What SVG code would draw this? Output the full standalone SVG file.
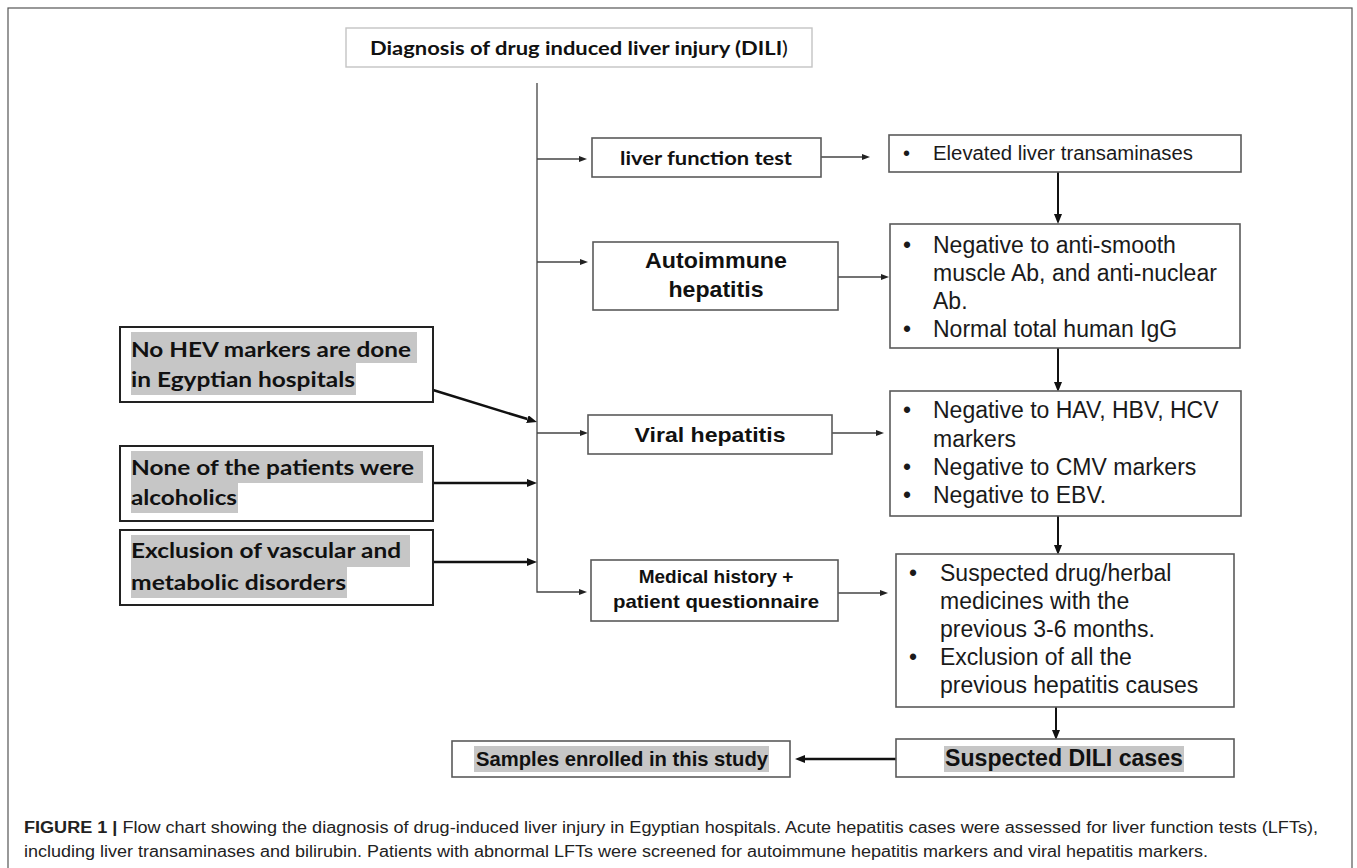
<svg xmlns="http://www.w3.org/2000/svg" width="1357" height="868" viewBox="0 0 1357 868">
<style>
.box{fill:#fff;stroke:#5a5a5a;stroke-width:1.6}
.lbox{fill:#fff;stroke:#222;stroke-width:2}
.tbox{fill:#fff;stroke:#c4c4c4;stroke-width:1.4}
.hl{fill:#c6c6c6}
.cal{font-family:Lato,"Liberation Sans",sans-serif;font-weight:bold;fill:#111}
.ab{font-family:"Liberation Sans",Arial,sans-serif;font-weight:bold;fill:#111}
.ar{font-family:"Liberation Sans",Arial,sans-serif;fill:#1a1a1a}
.thin{stroke:#444;stroke-width:1.3;fill:none}
.thick{stroke:#111;stroke-width:2.6;fill:none}
.mid{stroke:#111;stroke-width:2;fill:none}
.cap{font-family:"Liberation Sans",Arial,sans-serif;font-size:16px;fill:#222}
</style>
<defs>
<marker id="ah" viewBox="0 0 8 6" refX="0" refY="3" markerWidth="8" markerHeight="6" markerUnits="userSpaceOnUse" orient="auto"><path d="M0,0 L8,3 L0,6 z" fill="#222"/></marker>
<marker id="ahb" viewBox="0 0 10 8" refX="0" refY="4" markerWidth="10" markerHeight="8" markerUnits="userSpaceOnUse" orient="auto"><path d="M0,0 L10,4 L0,8 z" fill="#111"/></marker>
</defs>
<rect width="1357" height="868" fill="#fff"/>
<rect x="8" y="8" width="1344" height="866" fill="none" stroke="#555" stroke-width="1.2"/>

<g id="connectors">
<path class="thin" d="M537,83 V592 H579" marker-end="url(#ah)"/>
<line class="thin" x1="537" y1="159" x2="579" y2="159" marker-end="url(#ah)"/>
<line class="thin" x1="537" y1="262" x2="580" y2="262" marker-end="url(#ah)"/>
<line class="thin" x1="537" y1="433" x2="580" y2="433" marker-end="url(#ah)"/>
<line class="thin" x1="821" y1="157" x2="862" y2="157" marker-end="url(#ah)"/>
<line class="thin" x1="838" y1="277" x2="881" y2="277" marker-end="url(#ah)"/>
<line class="thin" x1="832" y1="433" x2="876" y2="433" marker-end="url(#ah)"/>
<line class="thin" x1="838" y1="593" x2="880" y2="593" marker-end="url(#ah)"/>
<line class="mid" x1="1058" y1="172" x2="1058" y2="214" marker-end="url(#ahb)"/>
<line class="mid" x1="1058" y1="348" x2="1058" y2="382" marker-end="url(#ahb)"/>
<line class="mid" x1="1058" y1="516" x2="1058" y2="545" marker-end="url(#ahb)"/>
<line class="mid" x1="1056" y1="707" x2="1056" y2="730" marker-end="url(#ahb)"/>
<line class="thick" x1="896" y1="759" x2="805" y2="759" marker-end="url(#ahb)"/>
<line class="thick" x1="433" y1="390" x2="527.4" y2="419.1" marker-end="url(#ahb)"/>
<line class="thick" x1="433" y1="483" x2="527" y2="483" marker-end="url(#ahb)"/>
<line class="thick" x1="433" y1="562" x2="527" y2="562" marker-end="url(#ahb)"/>
</g>

<g id="title">
<rect class="tbox" x="346" y="28" width="466" height="39"/>
<text class="cal" x="370" y="55" font-size="19" textLength="418" lengthAdjust="spacingAndGlyphs">Diagnosis of drug induced liver injury (DILI<tspan font-weight="normal">)</tspan></text>
</g>

<g id="lft">
<rect class="box" x="592" y="138" width="229" height="39"/>
<text class="cal" x="706" y="165" font-size="19" text-anchor="middle" textLength="172" lengthAdjust="spacingAndGlyphs">liver function test</text>
</g>

<g id="elevated">
<rect class="box" x="889" y="135" width="352" height="37"/>
<text class="ar" x="903" y="160" font-size="20">•</text>
<text class="ar" x="933" y="160" font-size="20" textLength="260" lengthAdjust="spacingAndGlyphs">Elevated liver transaminases</text>
</g>

<g id="autoimmune">
<rect class="box" x="593" y="242" width="245" height="68"/>
<text class="ab" x="716" y="268" font-size="22" text-anchor="middle" textLength="142" lengthAdjust="spacingAndGlyphs">Autoimmune</text>
<text class="ab" x="716" y="297" font-size="22" text-anchor="middle" textLength="95" lengthAdjust="spacingAndGlyphs">hepatitis</text>
</g>

<g id="autoimmune-result">
<rect class="box" x="890" y="224" width="350" height="124"/>
<text class="ar" font-size="23">
<tspan x="903" y="253">•</tspan>
<tspan x="933" y="253">Negative to anti-smooth</tspan>
<tspan x="933" y="281">muscle Ab, and anti-nuclear</tspan>
<tspan x="933" y="309">Ab.</tspan>
<tspan x="903" y="337">•</tspan>
<tspan x="933" y="337">Normal total human IgG</tspan>
</text>
</g>

<g id="viral">
<rect class="box" x="588" y="415" width="244" height="39"/>
<text class="ab" x="710" y="442" font-size="21" text-anchor="middle" textLength="151" lengthAdjust="spacingAndGlyphs">Viral hepatitis</text>
</g>

<g id="viral-result">
<rect class="box" x="890" y="391" width="351" height="125"/>
<text class="ar" font-size="23">
<tspan x="903" y="418">•</tspan>
<tspan x="933" y="418">Negative to HAV, HBV, HCV</tspan>
<tspan x="933" y="447">markers</tspan>
<tspan x="903" y="475">•</tspan>
<tspan x="933" y="475">Negative to CMV markers</tspan>
<tspan x="903" y="503">•</tspan>
<tspan x="933" y="503">Negative to EBV.</tspan>
</text>
</g>

<g id="medical">
<rect class="box" x="591" y="560" width="247" height="61"/>
<text class="ab" x="716" y="583" font-size="19" text-anchor="middle">Medical history +</text>
<text class="ab" x="716" y="608" font-size="19" text-anchor="middle" textLength="206" lengthAdjust="spacingAndGlyphs">patient questionnaire</text>
</g>

<g id="medical-result">
<rect class="box" x="896" y="554" width="338" height="153"/>
<text class="ar" font-size="23">
<tspan x="909" y="581">•</tspan>
<tspan x="940" y="581">Suspected drug/herbal</tspan>
<tspan x="940" y="609">medicines with the</tspan>
<tspan x="940" y="637">previous 3-6 months.</tspan>
<tspan x="909" y="665">•</tspan>
<tspan x="940" y="665">Exclusion of all the</tspan>
<tspan x="940" y="693">previous hepatitis causes</tspan>
</text>
</g>

<g id="dili">
<rect class="box" x="896" y="739" width="338" height="38"/>
<rect class="hl" x="944" y="746" width="240" height="26"/>
<text class="ab" x="1064" y="766" font-size="23" text-anchor="middle" textLength="238" lengthAdjust="spacingAndGlyphs">Suspected DILI cases</text>
</g>

<g id="samples">
<rect class="box" x="452" y="741" width="338" height="36"/>
<rect class="hl" x="474" y="746" width="295" height="26"/>
<text class="ab" x="622" y="766" font-size="21" text-anchor="middle" textLength="292" lengthAdjust="spacingAndGlyphs">Samples enrolled in this study</text>
</g>

<g id="hev">
<rect class="lbox" x="120" y="327" width="313" height="75"/>
<rect class="hl" x="131" y="332" width="286" height="31"/>
<rect class="hl" x="131" y="363" width="225" height="32"/>
<text class="cal" x="131" y="357" font-size="21" textLength="280" lengthAdjust="spacingAndGlyphs">No HEV markers are done</text>
<text class="cal" x="131" y="387" font-size="21" textLength="224" lengthAdjust="spacingAndGlyphs">in Egyptian hospitals</text>
</g>

<g id="alcohol">
<rect class="lbox" x="120" y="446" width="313" height="75"/>
<rect class="hl" x="131" y="451" width="292" height="32"/>
<rect class="hl" x="131" y="483" width="107" height="30"/>
<text class="cal" x="131" y="475" font-size="21" textLength="283" lengthAdjust="spacingAndGlyphs">None of the patients were</text>
<text class="cal" x="131" y="505" font-size="21" textLength="106" lengthAdjust="spacingAndGlyphs">alcoholics</text>
</g>

<g id="vascular">
<rect class="lbox" x="120" y="530" width="313" height="75"/>
<rect class="hl" x="131" y="535" width="279" height="32"/>
<rect class="hl" x="131" y="567" width="216" height="31"/>
<text class="cal" x="131" y="558" font-size="21" textLength="270" lengthAdjust="spacingAndGlyphs">Exclusion of vascular and</text>
<text class="cal" x="131" y="590" font-size="21" textLength="215" lengthAdjust="spacingAndGlyphs">metabolic disorders</text>
</g>

<g id="caption">
<text class="cap" x="24" y="833" textLength="1294" lengthAdjust="spacingAndGlyphs"><tspan font-weight="bold">FIGURE 1 |</tspan> Flow chart showing the diagnosis of drug-induced liver injury in Egyptian hospitals. Acute hepatitis cases were assessed for liver function tests (LFTs),</text>
<text class="cap" x="24" y="857" textLength="1184" lengthAdjust="spacingAndGlyphs">including liver transaminases and bilirubin. Patients with abnormal LFTs were screened for autoimmune hepatitis markers and viral hepatitis markers.</text>
</g>
</svg>
